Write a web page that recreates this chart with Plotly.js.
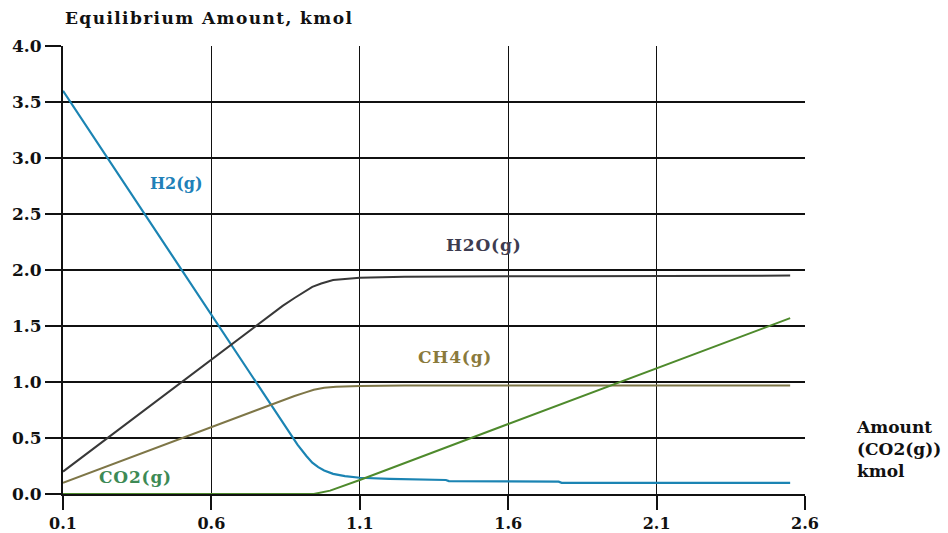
<!DOCTYPE html>
<html>
<head>
<meta charset="utf-8">
<script src="https://cdn.plot.ly/plotly-3.0.1.min.js"></script>
<style>html,body{margin:0;padding:0;background:#fff;}#chart{width:948px;height:533px;}</style>
</head>
<body>
<div id="chart"></div>
<script>
// x: amount of CO2(g) fed, kmol
const xH2 = [0.1, 0.2, 0.3, 0.4, 0.5, 0.6, 0.7, 0.8, 0.86, 0.89, 0.92, 0.94, 0.96, 0.98, 1.01, 1.05, 1.1, 1.2, 1.39, 1.4, 1.77, 1.78, 2.1, 2.55];
const yH2 = [3.6, 3.2, 2.8, 2.4, 2.0, 1.6, 1.2, 0.8, 0.56, 0.44, 0.34, 0.28, 0.24, 0.21, 0.18, 0.16, 0.145, 0.135, 0.125, 0.115, 0.11, 0.1, 0.1, 0.1];

const xH2O = [0.1, 0.3, 0.5, 0.7, 0.84, 0.88, 0.91, 0.94, 0.97, 1.01, 1.1, 1.25, 1.8, 2.55];
const yH2O = [0.2, 0.6, 1.0, 1.4, 1.68, 1.75, 1.8, 1.85, 1.88, 1.91, 1.93, 1.94, 1.945, 1.95];

const xCH4 = [0.1, 0.3, 0.5, 0.7, 0.84, 0.88, 0.915, 0.945, 0.98, 1.02, 1.1, 1.25, 2.55];
const yCH4 = [0.1, 0.3, 0.5, 0.7, 0.84, 0.875, 0.905, 0.93, 0.948, 0.958, 0.965, 0.968, 0.968];

const xCO2 = [0.1, 0.5, 0.945, 1.0, 1.1, 1.6, 2.1, 2.55];
const yCO2 = [0.0, 0.0, 0.0, 0.03, 0.125, 0.625, 1.12, 1.57];

const seriesNames = ["H2(g)", "H2O(g)", "CH4(g)", "CO2(g)"];
const yTitle = "Equilibrium Amount, kmol";
const xTitleLines = ["Amount", "(CO2(g))", "kmol"];

const serif = "DejaVu Serif, serif";
const cols = ["#1b84b3", "#383838", "#7e7647", "#4e8a2c"];

const traces = [
  {x: xH2, y: yH2, name: seriesNames[0], line: {color: cols[0], width: 2.2}},
  {x: xH2O, y: yH2O, name: seriesNames[1], line: {color: cols[1], width: 2}},
  {x: xCH4, y: yCH4, name: seriesNames[2], line: {color: cols[2], width: 2}},
  {x: xCO2, y: yCO2, name: seriesNames[3], line: {color: cols[3], width: 2}}
].map(t => Object.assign({type: "scatter", mode: "lines", hoverinfo: "skip"}, t));

const tickFont = {family: serif, size: 16, weight: "bold", color: "#111"};
const spaced = (s, px) => '<span style="letter-spacing:' + px + 'px">' + s + '</span>';

const layout = {
  width: 948, height: 533,
  margin: {l: 63, r: 143, t: 46, b: 39},
  paper_bgcolor: "#fff", plot_bgcolor: "#fff",
  showlegend: false,
  font: {family: serif, color: "#111"},
  xaxis: {
    range: [0.1, 2.6], tick0: 0.1, dtick: 0.5, tickformat: ".1f",
    showgrid: true, gridcolor: "#111", gridwidth: 1.4,
    showline: true, linecolor: "#111", linewidth: 2,
    ticks: "outside", ticklen: 14, tickwidth: 2, tickcolor: "#111",
    tickfont: tickFont, zeroline: false
  },
  yaxis: {
    range: [0, 4.0], tick0: 0, dtick: 0.5, tickformat: ".1f",
    showgrid: true, gridcolor: "#111", gridwidth: 1.4,
    showline: true, linecolor: "#111", linewidth: 2,
    ticks: "outside", ticklen: 16, tickwidth: 2, tickcolor: "#111",
    tickfont: Object.assign({}, tickFont, {size: 17}), zeroline: false
  },
  annotations: [
    {xref: "paper", yref: "paper", x: 0.0, y: 1.0, yshift: 28, xshift: 0, xanchor: "left", yanchor: "middle",
     text: spaced(yTitle, 1.4), showarrow: false, font: {family: serif, size: 17, weight: "bold", color: "#111"}},
    {xref: "paper", yref: "paper", x: 1.0, xshift: 49, y: 0.1, xanchor: "left", yanchor: "middle", align: "left",
     text: xTitleLines.join("<br>"), showarrow: false, font: {family: serif, size: 17, weight: "bold", color: "#111"}},
    {x: 0.484, y: 2.77, text: seriesNames[0], showarrow: false, font: {family: serif, size: 16, weight: "bold", color: "#2080b8"}},
    {x: 1.518, y: 2.22, text: spaced(seriesNames[1], 0.8), showarrow: false, font: {family: serif, size: 17, weight: "bold", color: "#3e3c50"}},
    {x: 1.42, y: 1.22, text: spaced(seriesNames[2], 0.8), showarrow: false, font: {family: serif, size: 17, weight: "bold", color: "#8a7a3c"}},
    {x: 0.343, y: 0.15, text: spaced(seriesNames[3], 0.8), showarrow: false, font: {family: serif, size: 17, weight: "bold", color: "#3d8a55"}}
  ]
};

Plotly.newPlot("chart", traces, layout, {displayModeBar: false, staticPlot: true});
</script>
</body>
</html>
